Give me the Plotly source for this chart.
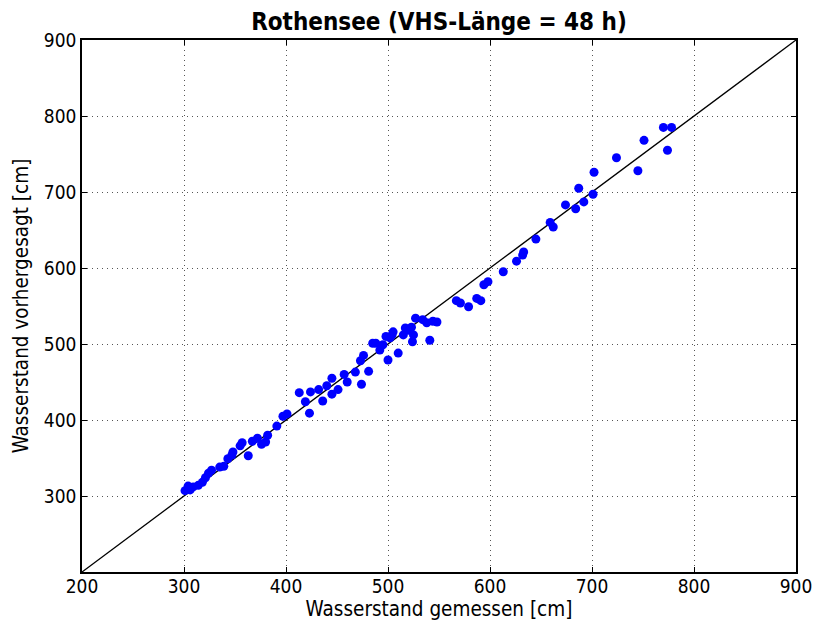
import plotly.graph_objects as go

measured = [301, 304, 306, 309, 314, 318, 321, 324, 327, 335, 339, 347, 348, 357, 363, 367, 372, 376,
            380, 382, 391, 397, 401, 413, 419, 423, 424, 432, 436, 440, 445, 445, 451, 457, 460, 468,
            473, 474, 476, 481, 485, 488, 492, 495, 500, 502, 504, 505, 510, 515, 517, 523, 524, 525,
            527, 534, 538, 541, 544, 548, 567, 571, 579, 587, 591, 594, 598, 613, 626, 632, 633, 645,
            659, 662, 674, 684, 687, 692, 701, 702, 724, 745, 751, 770, 774, 778, 520, 498, 355, 343]
predicted = [307, 313, 308, 312, 314, 318, 324, 330, 334, 338, 339, 354, 358, 370, 353, 372, 376, 368,
             371, 380, 392, 405, 408, 436, 424, 409, 437, 440, 425, 445, 455, 434, 440, 460, 450, 463,
             478, 447, 485, 464, 501, 501, 492, 499, 479, 508, 512, 516, 488, 512, 521, 522, 503, 512,
             534, 532, 528, 505, 530, 529, 557, 554, 549, 560, 557, 578, 582, 595, 609, 617, 621, 638,
             660, 654, 683, 678, 705, 687, 697, 726, 745, 728, 768, 785, 755, 785, 518, 510, 366, 349]

diag = [200, 900]
x_ticks = [200, 300, 400, 500, 600, 700, 800, 900]
y_ticks = [200, 300, 400, 500, 600, 700, 800, 900]
y_ticklabels = ["", "300", "400", "500", "600", "700", "800", "900"]

FONT = "DejaVu Sans Condensed, DejaVu Sans"

fig = go.Figure()
fig.add_trace(go.Scatter(x=diag, y=diag, mode="lines",
                         line=dict(color="black", width=1.3), showlegend=False, hoverinfo="skip"))
fig.add_trace(go.Scatter(x=measured, y=predicted, mode="markers",
                         marker=dict(color="#0000ff", size=9, line=dict(width=0)), showlegend=False))

axis_common = dict(
    range=[200, 900],
    showline=True, linecolor="black", linewidth=1.5, mirror="allticks",
    ticks="inside", ticklen=5, tickcolor="black", tickwidth=1,
    showgrid=True, gridcolor="#555555", griddash="1px,4px", gridwidth=1,
    zeroline=False, automargin=False,
    tickfont=dict(family=FONT, size=19, color="black"),
)

fig.update_layout(
    width=818, height=628,
    paper_bgcolor="white", plot_bgcolor="white",
    margin=dict(l=82, r=22, t=40, b=56),
    title=dict(text="<b>Rothensee (VHS-Länge = 48 h)</b>", x=0.5, xref="paper", xanchor="center",
               y=1 - 22 / 628, yref="container", yanchor="middle",
               font=dict(family=FONT, size=24, color="black")),
    xaxis=dict(**axis_common, tickvals=x_ticks, ticktext=[str(t) for t in x_ticks],
               ticklabelstandoff=-4,
               title=dict(text="Wasserstand gemessen [cm]", standoff=6,
                          font=dict(family=FONT, size=20.5, color="black"))),
    yaxis=dict(**axis_common, tickvals=y_ticks, ticktext=y_ticklabels,
               title=dict(text="Wasserstand vorhergesagt [cm]", standoff=10,
                          font=dict(family=FONT, size=20.5, color="black"))),
)

fig.write_html("out.html", config={"displayModeBar": False},
               post_script="document.body.style.margin='0';document.body.style.overflow='hidden';")
